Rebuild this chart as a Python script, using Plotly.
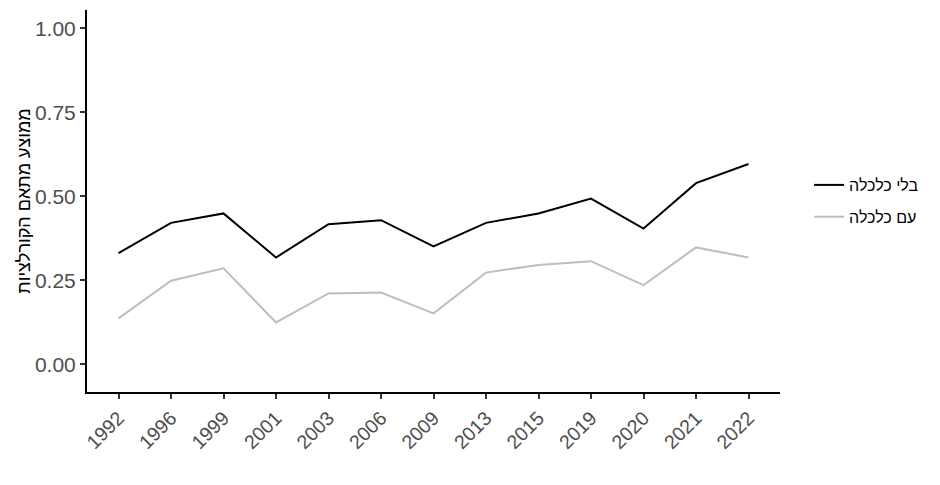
import plotly.graph_objects as go

years = ["1992", "1996", "1999", "2001", "2003", "2006", "2009",
         "2013", "2015", "2019", "2020", "2021", "2022"]
no_econ = [0.331, 0.421, 0.449, 0.318, 0.417, 0.429, 0.351,
           0.421, 0.449, 0.493, 0.404, 0.539, 0.596]
with_econ = [0.137, 0.249, 0.286, 0.125, 0.211, 0.214, 0.152,
             0.273, 0.296, 0.307, 0.236, 0.348, 0.318]
y_ticks = [0, 0.25, 0.5, 0.75, 1.0]
y_labels = ["0.00", "0.25", "0.50", "0.75", "1.00"]

fig = go.Figure()
fig.add_trace(go.Scatter(x=years, y=no_econ, mode="lines", name="בלי כלכלה",
                         legendgroup="a", line=dict(color="black", width=2)))
fig.add_trace(go.Scatter(x=years, y=with_econ, mode="lines", name="עם כלכלה",
                         legendgroup="b", line=dict(color="#BEBEBE", width=2)))

# the page has an 8px body margin, so the figure is 8px smaller than the window
fig.update_layout(
    width=932, height=477,
    margin=dict(l=79, r=160, t=2, b=93),
    paper_bgcolor="white", plot_bgcolor="white",
    font=dict(family="Liberation Sans, Arial", color="black"),
    showlegend=True,
    legend=dict(x=1.042, xanchor="left", y=0.5, yanchor="middle",
                font=dict(size=16, color="black"), tracegroupgap=8),
)
fig.update_xaxes(
    type="category", range=[-0.6, len(years) - 0.4], automargin=False,
    showline=True, linecolor="black", linewidth=2, mirror=False,
    ticks="outside", ticklen=5, tickwidth=1.5, tickcolor="#333333",
    tickangle=-45, tickfont=dict(size=19.5, color="#4D4D4D"),
    showgrid=False, zeroline=False,
)
fig.update_yaxes(
    range=[-0.082, 1.054], automargin=False,
    tickvals=y_ticks, ticktext=y_labels,
    showline=True, linecolor="black", linewidth=2,
    ticks="outside", ticklen=5, tickwidth=1.5, tickcolor="#333333",
    tickfont=dict(size=21, color="#4D4D4D"),
    title=dict(text="ממוצע מתאם הקורלציות", font=dict(size=18, color="black"), standoff=0),
    showgrid=False, zeroline=False,
)

fig.write_html("out.html")
